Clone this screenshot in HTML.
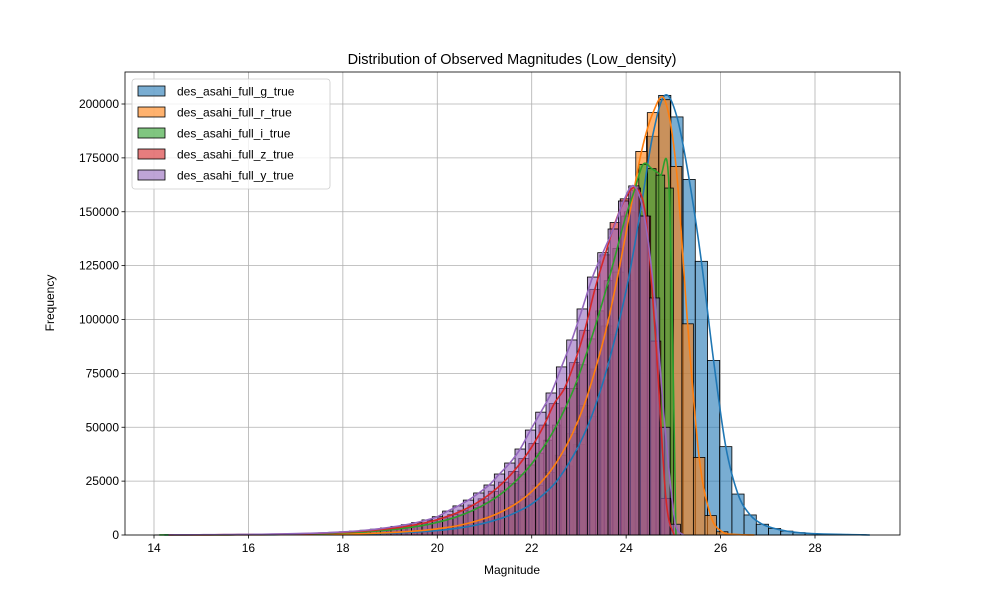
<!DOCTYPE html>
<html><head><meta charset="utf-8"><style>
html,body{margin:0;padding:0;background:#fff;}
svg{display:block;font-family:"Liberation Sans","DejaVu Sans",sans-serif;}
</style></head><body>
<svg id="chart" width="1000" height="600" viewBox="0 0 1000 600" xmlns="http://www.w3.org/2000/svg">
<rect x="0" y="0" width="1000" height="600" fill="#fff"/>
<text x="512" y="64" font-size="14.5" text-anchor="middle" fill="#000">Distribution of Observed Magnitudes (Low_density)</text>
<g id="grid"></g><g id="bars"></g><g id="lines"></g><g id="axes"></g>
<text x="512" y="574" font-size="12" text-anchor="middle">Magnitude</text>
<text x="0" y="0" font-size="12" text-anchor="middle" transform="translate(54,303) rotate(-90)">Frequency</text>
<g id="legend"></g>
</svg>
<script>
const seriesNames = ["des_asahi_full_g_true","des_asahi_full_r_true","des_asahi_full_i_true","des_asahi_full_z_true","des_asahi_full_y_true"];
const seriesColors = ["#1f77b4","#ff7f0e","#2ca02c","#d62728","#9467bd"];
const binStarts = [14.09, 14.2, 14.02, 14.2, 14.2];
const binWidths = [0.2585, 0.244, 0.183, 0.215, 0.219];
const countsG = [15,18,22,28,35,45,55,70,90,110,140,170,210,260,320,400,490,610,760,950,1200,1500,1900,2400,3100,4000,5200,6700,8500,11000,14000,18500,24000,32000,42000,55000,72000,93000,118000,150000,185000,204000,194000,165000,127000,81000,41000,19000,9300,5000,3000,1800,1100,700,450,300,200,120];
const countsR = [17,21,26,32,40,50,62,77,95,117,145,180,225,280,350,430,540,680,850,1070,1350,1700,2100,2700,3400,4300,5500,7000,8800,11200,14200,18000,23000,29000,37000,47000,60000,77000,97000,122000,150000,178000,196000,202000,171000,98000,36000,9000,1500,300,80];
const countsI = [27,32,38,45,53,63,75,90,105,125,150,175,205,245,290,340,400,480,570,670,790,930,1100,1300,1500,1800,2100,2500,3000,3500,4100,4800,5700,6700,7900,9300,10900,12800,15000,17500,20500,24000,28000,32500,38000,44000,51000,59000,68000,79000,91000,104000,118000,133000,148000,160000,172000,170000,167000,161000];
const countsZ = [48,58,70,85,100,125,150,180,220,265,320,390,470,570,690,830,1000,1200,1450,1750,2100,2600,3100,3700,4500,5400,6500,7900,9500,11500,13900,16800,20300,24500,29500,35500,42500,51000,61000,68000,80000,95000,114000,130000,145000,156000,161000,148000,90000,17000];
const countsY = [60,80,100,120,140,170,200,240,290,350,420,500,600,720,860,1000,1250,1500,1800,2200,2700,3300,4000,4800,5800,7000,8500,11100,13500,16200,19500,23200,28300,33400,39900,48700,57000,65900,78000,90500,104900,119700,131000,142000,155000,162000,148000,110000,50000,5000];
const allCounts = [countsG,countsR,countsI,countsZ,countsY];
const xTicks = [14,16,18,20,22,24,26,28];
const yTicks = [0,25000,50000,75000,100000,125000,150000,175000,200000];

const NS="http://www.w3.org/2000/svg";
const L=125,R=900,T=72,B=535;
function xs(v){return 154+(v-14)*(815-154)/14;}
function ys(v){return 535-v*431/200000;}
function mk(tag,attrs,parent){const e=document.createElementNS(NS,tag);for(const k in attrs)e.setAttribute(k,attrs[k]);parent.appendChild(e);return e;}
const grid=document.getElementById('grid'),bars=document.getElementById('bars'),lines=document.getElementById('lines'),axes=document.getElementById('axes'),legend=document.getElementById('legend');

xTicks.forEach(t=>{
  const gl=mk('line',{x1:xs(t),x2:xs(t),y1:T,y2:B,stroke:'#b0b0b0','stroke-width':0.8},grid);
  
  
  mk('line',{x1:xs(t),x2:xs(t),y1:B,y2:B+3.5,stroke:'#000','stroke-width':0.8},axes);
  const tx=mk('text',{x:xs(t),y:B+17,'font-size':12,'text-anchor':'middle'},axes);
  tx.textContent=t;
  
  
});
yTicks.forEach(t=>{
  const gl=mk('line',{x1:L,x2:R,y1:ys(t),y2:ys(t),stroke:'#b0b0b0','stroke-width':0.8},grid);
  
  
  mk('line',{x1:L-3.5,x2:L,y1:ys(t),y2:ys(t),stroke:'#000','stroke-width':0.8},axes);
  const tx=mk('text',{x:L-6,y:ys(t)+4,'font-size':12,'text-anchor':'end'},axes);
  tx.textContent=t;
  
  
});
const frame=mk('rect',{x:L,y:T,width:R-L,height:B-T,fill:'none',stroke:'#000','stroke-width':0.8},axes);



allCounts.forEach((cs,si)=>{
  const g=mk('g',{},bars);
  
  
  cs.forEach((c,i)=>{
    const x0=xs(binStarts[si]+i*binWidths[si]),x1=xs(binStarts[si]+(i+1)*binWidths[si]);
    const r=mk('rect',{x:x0,y:ys(c),width:x1-x0,height:B-ys(c),fill:seriesColors[si],'fill-opacity':0.6,stroke:'#000','stroke-width':0.8},g);
    
    
  });
});
allCounts.forEach((cs,si)=>{
  const pts=cs.map((c,i)=>[xs(binStarts[si]+(i+0.5)*binWidths[si]),ys(c)]);
  const endX=binStarts[si]+cs.length*binWidths[si];
  pts.push([xs(endX+binWidths[si]*0.3),ys(0)]);
  let d='M'+pts[0][0]+','+pts[0][1];
  for(let i=0;i<pts.length-1;i++){
    const p0=pts[Math.max(0,i-1)],p1=pts[i],p2=pts[i+1],p3=pts[Math.min(pts.length-1,i+2)];
    const c1=[p1[0]+(p2[0]-p0[0])/6,Math.min(B,p1[1]+(p2[1]-p0[1])/6)];
    const c2=[p2[0]-(p3[0]-p1[0])/6,Math.min(B,p2[1]-(p3[1]-p1[1])/6)];
    d+=' C'+c1[0]+','+c1[1]+' '+c2[0]+','+c2[1]+' '+p2[0]+','+p2[1];
  }
  const p=mk('path',{d:d,fill:'none',stroke:seriesColors[si],'stroke-width':1.6},lines);
  
  
});

const lb=mk('rect',{x:132,y:79,width:198,height:110,rx:3,fill:'#fff','fill-opacity':0.8,stroke:'#ccc','stroke-width':0.8},legend);


seriesNames.forEach((n,i)=>{
  const yy=91+i*21;
  const g=mk('g',{},legend);
  
  
  mk('rect',{x:138,y:yy-5,width:27,height:10,fill:seriesColors[i],'fill-opacity':0.6,stroke:'#000','stroke-width':0.8},g);
  const t=mk('text',{x:177,y:yy+4.5,'font-size':12},g);
  t.textContent=n;
});
</script>
</body></html>
